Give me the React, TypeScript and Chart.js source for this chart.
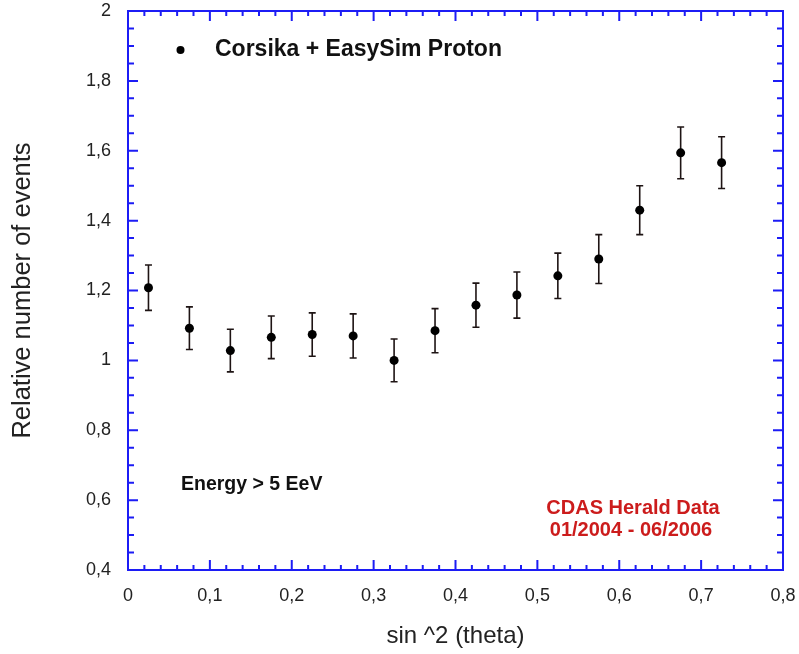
import React, { useEffect, useRef } from "react";
import { Chart, registerables } from "chart.js";

Chart.register(...registerables);

const sin2Theta = [0.025, 0.075, 0.125, 0.175, 0.225, 0.275, 0.325, 0.375, 0.425, 0.475, 0.525, 0.575, 0.625, 0.675, 0.725];
const relativeEvents = [1.208, 1.092, 1.028, 1.066, 1.074, 1.070, 1.000, 1.085, 1.158, 1.187, 1.242, 1.290, 1.430, 1.594, 1.566];
const errors = [0.065, 0.061, 0.061, 0.061, 0.062, 0.063, 0.061, 0.063, 0.063, 0.066, 0.065, 0.070, 0.070, 0.074, 0.074];

const legendLabel = "Corsika + EasySim Proton";
const energyLabel = "Energy > 5 EeV";
const dataLabelLines = ["CDAS Herald Data", "01/2004 - 06/2006"];
const xTitle = "sin ^2 (theta)";
const yTitle = "Relative number of events";

const FONT = "'Liberation Sans', Arial, Helvetica, sans-serif";
const BLUE = "#1c1cf5";
const MARK = "#1e1414";
const RED = "#cc1c1c";

const fmt = (v: number) => {
  const r = Math.round(v * 10) / 10;
  return (Number.isInteger(r) ? String(r) : r.toFixed(1)).replace(".", ",");
};

const framePlugin = {
  id: "frameTicks",
  beforeDatasetsDraw(chart: any) {
    const { ctx, scales } = chart;
    const xs = scales.x;
    const ys = scales.y;
    ctx.save();
    ctx.strokeStyle = MARK;
    ctx.lineWidth = 1.6;
    sin2Theta.forEach((x, i) => {
      const px = xs.getPixelForValue(x);
      const top = ys.getPixelForValue(relativeEvents[i] + errors[i]);
      const bot = ys.getPixelForValue(relativeEvents[i] - errors[i]);
      ctx.beginPath();
      ctx.moveTo(px, top);
      ctx.lineTo(px, bot);
      ctx.moveTo(px - 3.5, top);
      ctx.lineTo(px + 3.5, top);
      ctx.moveTo(px - 3.5, bot);
      ctx.lineTo(px + 3.5, bot);
      ctx.stroke();
    });
    ctx.restore();
  },
  afterDraw(chart: any) {
    const { ctx, chartArea: a, scales } = chart;
    const xs = scales.x;
    const ys = scales.y;
    ctx.save();
    ctx.strokeStyle = BLUE;
    ctx.lineWidth = 2;
    ctx.beginPath();
    for (let k = 0; k <= 40; k++) {
      const v = k * 0.02;
      const px = xs.getPixelForValue(v);
      const len = k % 5 === 0 ? 10 : 5;
      ctx.moveTo(px, a.bottom);
      ctx.lineTo(px, a.bottom - len);
      ctx.moveTo(px, a.top);
      ctx.lineTo(px, a.top + len);
    }
    for (let k = 0; k <= 32; k++) {
      const v = 0.4 + k * 0.05;
      const py = ys.getPixelForValue(v);
      const len = k % 4 === 0 ? 10 : 6;
      ctx.moveTo(a.left, py);
      ctx.lineTo(a.left + len, py);
      ctx.moveTo(a.right, py);
      ctx.lineTo(a.right - len, py);
    }
    ctx.stroke();
    ctx.strokeRect(a.left, a.top, a.right - a.left, a.bottom - a.top);

    ctx.fillStyle = "#000";
    ctx.beginPath();
    ctx.arc(180.5, 50, 4, 0, Math.PI * 2);
    ctx.fill();
    ctx.fillStyle = "#111";
    ctx.textBaseline = "middle";
    ctx.textAlign = "left";
    ctx.font = `bold 23px ${FONT}`;
    ctx.fillText(legendLabel, 215, 50);

    ctx.font = `bold 19.5px ${FONT}`;
    ctx.fillText(energyLabel, 181, 485);

    ctx.fillStyle = RED;
    ctx.textAlign = "center";
    ctx.font = `bold 20px ${FONT}`;
    ctx.fillText(dataLabelLines[0], 633, 508);
    ctx.fillText(dataLabelLines[1], 631, 530);
    ctx.restore();
  },
};

export default function App() {
  const ref = useRef<HTMLCanvasElement>(null);
  useEffect(() => {
    const canvas = ref.current;
    if (!canvas) return;
    const chart = new Chart(canvas, {
      type: "scatter",
      data: {
        datasets: [
          {
            label: legendLabel,
            data: sin2Theta.map((x, i) => ({ x, y: relativeEvents[i] })),
            backgroundColor: "#000",
            borderColor: "#000",
            pointRadius: 4.5,
            pointHoverRadius: 4.5,
            borderWidth: 0,
          },
        ],
      },
      options: {
        responsive: false,
        maintainAspectRatio: false,
        animation: false,
        devicePixelRatio: 1,
        layout: { padding: { left: 0, top: 11, right: 16, bottom: 0 } },
        plugins: { legend: { display: false }, tooltip: { enabled: false } },
        scales: {
          x: {
            type: "linear",
            position: "bottom",
            min: 0,
            max: 0.8,
            grid: { display: false, drawTicks: false },
            border: { display: false },
            ticks: {
              stepSize: 0.1,
              padding: 15,
              color: "#222",
              font: { family: FONT, size: 18 },
              maxRotation: 0,
              callback: (v: any) => fmt(Number(v)),
            },
            title: {
              display: true,
              text: xTitle,
              color: "#222",
              font: { family: FONT, size: 24 },
              padding: { top: 0, bottom: 3 },
            },
            afterFit: (s: any) => {
              s.height = 84;
              s.paddingLeft = 0;
              s.paddingRight = 0;
              s.paddingTop = 0;
              s.paddingBottom = 0;
            },
          },
          y: {
            type: "linear",
            position: "left",
            min: 0.4,
            max: 2,
            grid: { display: false, drawTicks: false },
            border: { display: false },
            ticks: {
              stepSize: 0.2,
              padding: 17,
              color: "#222",
              font: { family: FONT, size: 18 },
              callback: (v: any) => fmt(Number(v)),
            },
            title: {
              display: true,
              text: yTitle,
              color: "#222",
              font: { family: FONT, size: 25.5 },
              padding: { top: 8, bottom: 0 },
            },
            afterFit: (s: any) => {
              s.width = 128;
              s.paddingLeft = 0;
              s.paddingRight = 0;
              s.paddingTop = 0;
              s.paddingBottom = 0;
            },
          },
        },
      },
      plugins: [framePlugin],
    });
    return () => chart.destroy();
  }, []);
  return (
    <div style={{ position: "absolute", left: 0, top: 0, width: 799, height: 654, background: "#fff" }}>
      <canvas ref={ref} width={799} height={654} style={{ display: "block" }} />
    </div>
  );
}
